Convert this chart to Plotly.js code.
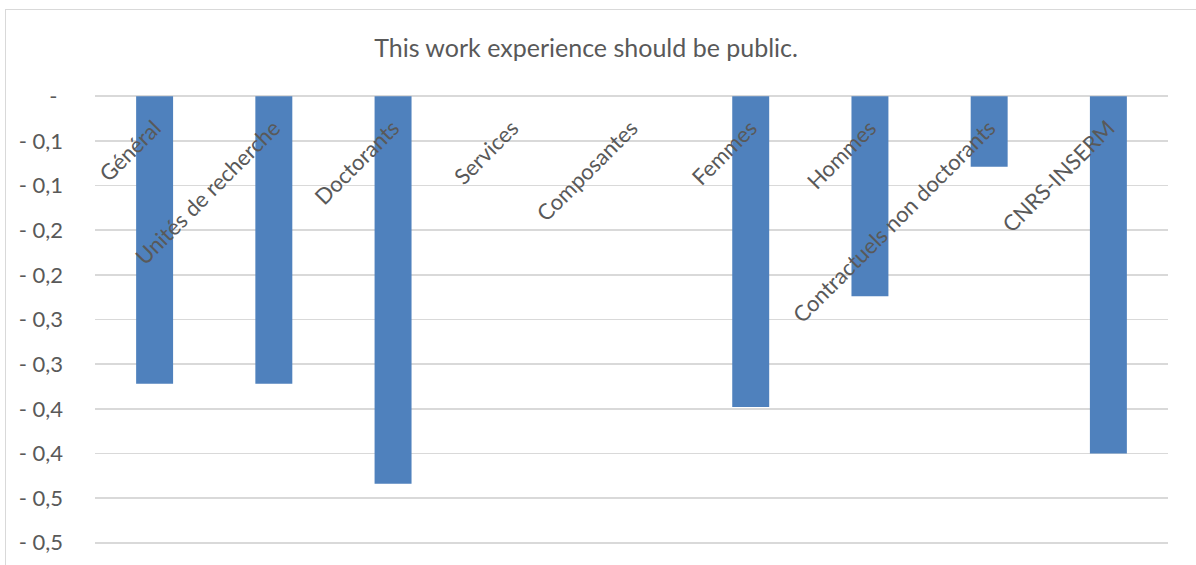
<!DOCTYPE html>
<html>
<head>
<meta charset="utf-8">
<script src="https://cdn.plot.ly/plotly-3.0.1.min.js"></script>
<style>
  html, body { margin: 0; padding: 0; background: #fff; overflow: hidden; }
  #chart { width: 1196px; height: 565px; }
  #frame { position: absolute; left: 5px; top: 9px; width: 1300px; height: 700px;
           border: 1px solid #d9d9d9; pointer-events: none; }
</style>
</head>
<body>
<div id="chart"></div>
<div id="frame"></div>
<script>
const categories = ["Général", "Unités de recherche", "Doctorants", "Services", "Composantes",
                    "Femmes", "Hommes", "Contractuels non doctorants", "CNRS-INSERM"];
const values = [-0.322, -0.322, -0.434, 0, 0, -0.348, -0.224, -0.079, -0.40];
const yTickVals = [0, -0.05, -0.1, -0.15, -0.2, -0.25, -0.3, -0.35, -0.4, -0.45, -0.5];
const yTickText = ["-\u00a0", "-\u00a00,1", "-\u00a00,1", "-\u00a00,2", "-\u00a00,2", "-\u00a00,3",
                   "-\u00a00,3", "-\u00a00,4", "-\u00a00,4", "-\u00a00,5", "-\u00a00,5"];
const titleText = "This work experience should be public.";

const textColor = "#595959";
const fontFamily = "Lato, 'Open Sans', sans-serif";

const data = [{
  type: "bar",
  x: categories,
  y: values,
  marker: { color: "#4F81BD", line: { width: 0 } },
  hoverinfo: "x+y"
}];

const layout = {
  width: 1196, height: 565,
  margin: { l: 95, r: 28, t: 94, b: 19.5, pad: 0 },
  paper_bgcolor: "#ffffff", plot_bgcolor: "#ffffff",
  showlegend: false,
  bargap: 0.69,
  title: { text: titleText, x: 0.49, xanchor: "center", y: 0.915, yanchor: "middle",
           font: { family: fontFamily, size: 25, color: textColor } },
  xaxis: {
    type: "category",
    anchor: "free", position: 1, side: "bottom",
    tickangle: -45,
    showgrid: false, showline: false, zeroline: false,
    ticks: "", ticklabelstandoff: 16,
    tickfont: { family: fontFamily, size: 22, color: textColor },
    fixedrange: true
  },
  yaxis: {
    range: [-0.5025, 0.0025], autorange: false,
    tickmode: "array", tickvals: yTickVals, ticktext: yTickText,
    showgrid: true, gridcolor: "#D9D9D9", gridwidth: 1.5,
    zeroline: false, showline: false, ticks: "",
    ticklabelstandoff: 31,
    tickfont: { family: fontFamily, size: 22, color: textColor },
    fixedrange: true
  }
};

Plotly.newPlot("chart", data, layout, { displayModeBar: false, staticPlot: true });
</script>
</body>
</html>
